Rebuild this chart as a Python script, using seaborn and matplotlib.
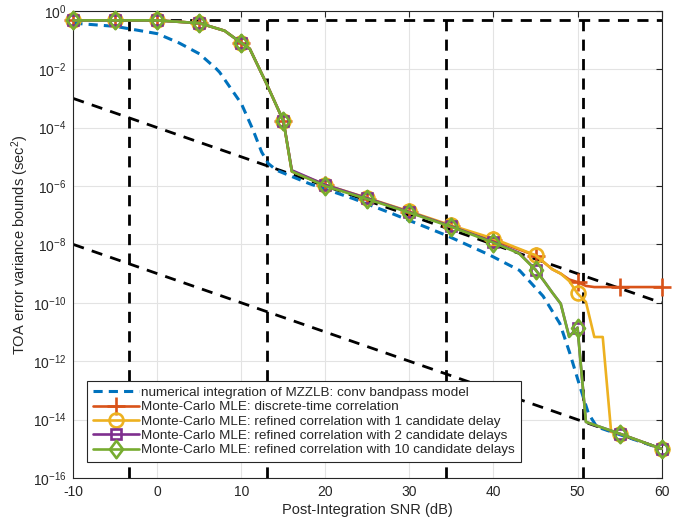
import numpy as np
import matplotlib
matplotlib.use("Agg")
import matplotlib.pyplot as plt
import seaborn as sns
from matplotlib.path import Path

# SNR values (dB) and log10 of the variance bounds
mzzlb_snr = [-10, -5, 0, 2.6, 5, 7.0, 7.4, 10, 11.4, 12.4, 13.2, 14.2, 18.1, 23.3,
             28, 34.4, 39.6, 43.1, 45.9, 47.9, 49.1, 50.3, 51.3, 52.3, 60]
mzzlb_log = [-0.42, -0.53, -0.78, -1.10, -1.47, -1.98, -2.1, -3.18, -4.09, -4.83, -5.23,
             -5.46, -5.92, -6.43, -6.95, -7.69, -8.37, -8.89, -9.77, -10.71, -11.74,
             -12.88, -13.79, -14.25, -15.0]

dt_snr = [-10, -5, 0, 5, 8, 10, 11, 13, 15, 16, 20, 25, 30, 35, 40, 45, 47, 48, 49, 50, 51, 52, 55, 60]
dt_log = [-0.325, -0.325, -0.325, -0.42, -0.68, -1.10, -1.30, -2.50, -3.77, -5.50, -5.98,
          -6.43, -6.89, -7.37, -7.85, -8.38, -8.85, -9.00, -9.20, -9.29, -9.42, -9.46, -9.46, -9.46]

c1_snr = [-10, -5, 0, 5, 8, 10, 11, 13, 15, 16, 20, 25, 30, 35, 40, 45, 47, 48, 49, 50, 51, 52, 53, 54, 55, 60]
c1_log = [-0.325, -0.325, -0.325, -0.42, -0.68, -1.10, -1.30, -2.50, -3.77, -5.48, -5.96,
          -6.41, -6.87, -7.35, -7.80, -8.37, -8.85, -9.00, -9.25, -9.68, -9.97, -11.17,
          -11.17, -14.42, -14.48, -15.0]

c2_snr = [-10, -5, 0, 5, 8, 10, 11, 13, 15, 16, 20, 25, 30, 35, 40, 43, 45, 46, 47, 48, 49, 50, 51, 52, 55, 60]
c2_log = [-0.325, -0.325, -0.325, -0.42, -0.68, -1.10, -1.30, -2.50, -3.77, -5.46, -5.96,
          -6.42, -6.89, -7.38, -7.92, -8.28, -8.86, -9.25, -9.65, -10.03, -11.15, -10.85,
          -14.08, -14.18, -14.48, -15.0]

c10_snr = [-10, -5, 0, 5, 8, 10, 11, 13, 15, 16, 20, 25, 30, 35, 40, 43, 45, 46, 47, 48, 49, 50, 51, 52, 55, 60]
c10_log = [-0.325, -0.325, -0.325, -0.42, -0.68, -1.10, -1.30, -2.50, -3.77, -5.50, -6.00,
           -6.45, -6.91, -7.40, -7.94, -8.30, -8.87, -9.25, -9.65, -10.03, -11.17, -10.85,
           -14.08, -14.18, -14.48, -15.0]

# black dashed reference lines
prior_level = 0.47
transition_snr = [-3.4, 13.0, 34.4, 50.7]
upper_snr = [-10, 60]
upper_log = [-3.0, -10.0]
lower_snr = [-10, 60]
lower_log = [-8.0, -15.0]

labels = [
    "numerical integration of MZZLB: conv bandpass model",
    "Monte-Carlo MLE: discrete-time correlation",
    "Monte-Carlo MLE: refined correlation with 1 candidate delay",
    "Monte-Carlo MLE: refined correlation with 2 candidate delays",
    "Monte-Carlo MLE: refined correlation with 10 candidate delays",
]
colors = ["#0072BD", "#D95319", "#EDB120", "#7E2F8E", "#77AC30"]

sns.set_style("white")
plt.rcParams["font.family"] = ["Liberation Sans", "DejaVu Sans"]
plt.rcParams["mathtext.fontset"] = "custom"
plt.rcParams["mathtext.rm"] = "Liberation Sans"
plt.rcParams["mathtext.it"] = "Liberation Sans:italic"
plt.rcParams["axes.unicode_minus"] = False

fig = plt.figure(figsize=(6.92, 5.19), dpi=100)
ax = fig.add_axes([0.106, 0.079, 0.850, 0.900])

dash_k = (0, (4, 3))
ax.axhline(prior_level, color="k", lw=2, ls=dash_k, zorder=2)
for xv in transition_snr:
    ax.axvline(xv, color="k", lw=2, ls=dash_k, zorder=2)
sns.lineplot(x=upper_snr, y=10.0 ** np.array(upper_log), ax=ax, color="k", lw=2, zorder=2)
sns.lineplot(x=lower_snr, y=10.0 ** np.array(lower_log), ax=ax, color="k", lw=2, zorder=2)
for ln in ax.lines[-2:]:
    ln.set_linestyle(dash_k)

sns.lineplot(x=mzzlb_snr, y=10.0 ** np.array(mzzlb_log), ax=ax, color=colors[0],
             lw=2.2, label=labels[0], zorder=3)
ax.lines[-1].set_linestyle((0, (3, 2)))

diamond = Path([(0, 1), (0.75, 0), (0, -1), (-0.75, 0), (0, 1)],
               [Path.MOVETO, Path.LINETO, Path.LINETO, Path.LINETO, Path.CLOSEPOLY])

mc = [
    (dt_snr, dt_log, "+", 13, colors[1]),
    (c1_snr, c1_log, "o", 10, colors[2]),
    (c2_snr, c2_log, "s", 7.5, colors[3]),
    (c10_snr, c10_log, diamond, 12.5, colors[4]),
]
for i, (sx, sl, mk, ms, col) in enumerate(mc):
    every = [j for j, v in enumerate(sx) if v % 5 == 0]
    sns.lineplot(x=sx, y=10.0 ** np.array(sl), ax=ax, color=col, lw=1.9,
                 marker=mk, markersize=ms, markevery=every, markerfacecolor="none",
                 markeredgecolor=col, markeredgewidth=1.9, label=labels[i + 1],
                 zorder=4 + i, clip_on=False)

ax.set_yscale("log")
ax.set_xlim(-10, 60)
ax.set_ylim(1e-16, 1)
ax.set_xticks(np.arange(-10, 61, 10))
ax.set_yticks([10.0 ** -k for k in range(16, -1, -2)])
ax.minorticks_off()
ax.grid(True, color="#e3e3e3", lw=0.8)
ax.set_axisbelow(True)
ax.tick_params(direction="in", top=True, right=True, length=4.5, width=0.8,
               labelsize=10, colors="#262626")
ax.tick_params(axis="x", pad=5)
ax.tick_params(axis="y", pad=5)
for sp in ax.spines.values():
    sp.set_color("#262626")
    sp.set_linewidth(0.8)
ax.set_xlabel("Post-Integration SNR (dB)", fontsize=10.5, color="#262626", labelpad=3)
ax.set_ylabel("TOA error variance bounds (sec$^2$)", fontsize=10.5, color="#262626",
              labelpad=1)

handles, _ = ax.get_legend_handles_labels()
leg = ax.legend(handles, labels, loc="lower left", bbox_to_anchor=(0.126, 0.109),
                bbox_transform=fig.transFigure, borderaxespad=0, fontsize=9.7,
                handlelength=3.4, handletextpad=0.15, labelspacing=0.14,
                borderpad=0.45, fancybox=False, framealpha=1, edgecolor="#262626")
leg.get_frame().set_linewidth(0.8)
leg.set_zorder(10)

fig.savefig("out.png", dpi=100)
